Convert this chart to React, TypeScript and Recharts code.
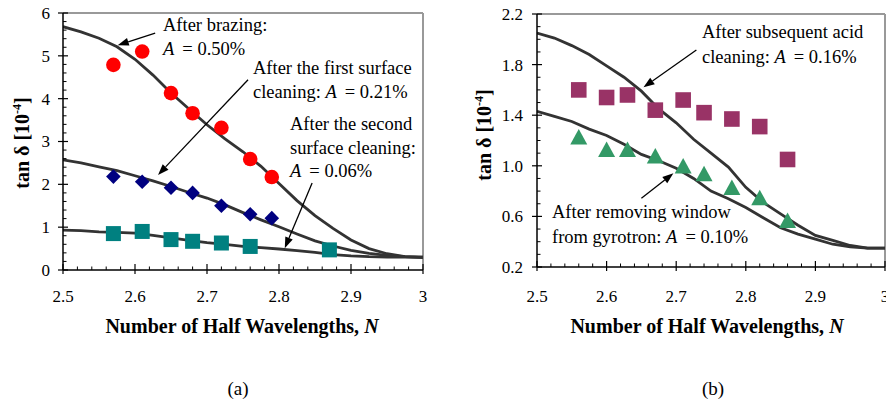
import React from 'react'
import { ComposedChart, Line, Scatter, XAxis, YAxis, ReferenceLine } from 'recharts'

const FONT = 'Liberation Serif, DejaVu Serif, serif'
const CURVE = '#333333'

// ---- panel (a) ----
const xPtsA = [2.57, 2.61, 2.65, 2.68, 2.72, 2.76, 2.79]
const brazing = [4.79, 5.1, 4.13, 3.66, 3.32, 2.59, 2.17]
const firstClean = [2.18, 2.06, 1.92, 1.8, 1.5, 1.3, 1.21]
const xPtsSecond = [2.57, 2.61, 2.65, 2.68, 2.72, 2.76, 2.87]
const secondClean = [0.85, 0.9, 0.71, 0.67, 0.63, 0.55, 0.47]

const curveX = [
  2.5, 2.525, 2.55, 2.575, 2.6, 2.625, 2.65, 2.675, 2.7, 2.725, 2.75,
  2.775, 2.8, 2.825, 2.85, 2.875, 2.9, 2.925, 2.95, 2.975, 3.0,
]
const fitBrazing = [
  5.68, 5.56, 5.41, 5.21, 4.92, 4.55, 4.13, 3.76, 3.39, 3.06, 2.76,
  2.42, 2.02, 1.62, 1.27, 0.97, 0.7, 0.5, 0.38, 0.31, 0.29,
]
const fitFirst = [
  2.57, 2.5, 2.41, 2.32, 2.2, 2.08, 1.95, 1.81, 1.68, 1.52, 1.34,
  1.17, 1.01, 0.84, 0.68, 0.56, 0.46, 0.39, 0.34, 0.31, 0.3,
]
const fitSecond = [
  0.93, 0.92, 0.89, 0.88, 0.86, 0.81, 0.75, 0.69, 0.64, 0.6, 0.55,
  0.52, 0.49, 0.45, 0.41, 0.36, 0.33, 0.31, 0.3, 0.3, 0.3,
]

// ---- panel (b) ----
const xPtsB = [2.56, 2.6, 2.63, 2.67, 2.71, 2.74, 2.78, 2.82, 2.86]
const acidClean = [1.6, 1.54, 1.56, 1.44, 1.52, 1.42, 1.37, 1.31, 1.05]
const removed = [1.23, 1.13, 1.13, 1.08, 1.0, 0.94, 0.83, 0.75, 0.57]
const fitAcid = [
  2.05, 2.01, 1.95, 1.88, 1.79, 1.7, 1.59, 1.45, 1.34, 1.21, 1.1,
  0.99, 0.83, 0.71, 0.62, 0.53, 0.45, 0.41, 0.37, 0.35, 0.35,
]
const fitRemoved = [
  1.43, 1.39, 1.35, 1.29, 1.24, 1.17, 1.09, 1.04, 0.98, 0.9, 0.8,
  0.74, 0.67, 0.59, 0.51, 0.46, 0.42, 0.38, 0.36, 0.35, 0.35,
]

// ticks
const xMajor = [2.5, 2.6, 2.7, 2.8, 2.9, 3]
const yMajorA = [0, 1, 2, 3, 4, 5, 6]
const yMajorB = [0.2, 0.6, 1.0, 1.4, 1.8, 2.2]

const zip = (xs: number[], ys: number[]) => xs.map((x, i) => ({ x, y: ys[i] }))

const subdivide = (major: number[], n: number) => {
  const out: number[] = []
  for (let i = 0; i < major.length - 1; i++) {
    const step = (major[i + 1] - major[i]) / n
    for (let k = 0; k < n; k++) out.push(+(major[i] + k * step).toFixed(4))
  }
  out.push(major[major.length - 1])
  return out
}

const isIn = (list: number[], v: number) => list.some((m) => Math.abs(m - v) < 1e-6)

function xTick(major: number[], labelDy: number) {
  return (props: any) => {
    const { x, y, payload } = props
    const v = payload.value
    if (!isIn(major, v)) {
      return <line x1={x} x2={x} y1={y} y2={y - 3.5} stroke="#000" strokeWidth={1} />
    }
    return (
      <g>
        <line x1={x} x2={x} y1={y - 6} y2={y + 4} stroke="#000" strokeWidth={1.2} />
        <text x={x} y={y + labelDy} textAnchor="middle" style={{ fontFamily: FONT, fontSize: 17 }} fill="#000">
          {String(v)}
        </text>
      </g>
    )
  }
}

function yTick(major: number[], fmt: (v: number) => string, gap: number) {
  return (props: any) => {
    const { x, y, payload } = props
    const v = payload.value
    if (!isIn(major, v)) {
      return <line x1={x} x2={x + 3.5} y1={y} y2={y} stroke="#000" strokeWidth={1} />
    }
    return (
      <g>
        <line x1={x - 5} x2={x + 5} y1={y} y2={y} stroke="#000" strokeWidth={1.2} />
        <text x={x - gap} y={y} dy="0.35em" textAnchor="end" style={{ fontFamily: FONT, fontSize: 17 }} fill="#000">
          {fmt(v)}
        </text>
      </g>
    )
  }
}

function ArrowShape(p: any) {
  const { x1, y1, x2, y2 } = p
  const a = Math.atan2(y2 - y1, x2 - x1)
  const len = 11
  const half = 4
  const bx = x2 - len * Math.cos(a)
  const by = y2 - len * Math.sin(a)
  const px = -Math.sin(a) * half
  const py = Math.cos(a) * half
  return (
    <g>
      <line x1={x1} y1={y1} x2={bx} y2={by} stroke="#000" strokeWidth={1.3} />
      <polygon points={`${x2},${y2} ${bx + px},${by + py} ${bx - px},${by - py}`} fill="#000" />
    </g>
  )
}

const circle = (color: string, r: number) => (p: any) =>
  <circle cx={p.cx} cy={p.cy} r={r} fill={color} />
const diamond = (color: string, h: number) => (p: any) =>
  <polygon points={`${p.cx},${p.cy - h} ${p.cx + h},${p.cy} ${p.cx},${p.cy + h} ${p.cx - h},${p.cy}`} fill={color} />
const square = (color: string, h: number) => (p: any) =>
  <rect x={p.cx - h} y={p.cy - h} width={2 * h} height={2 * h} fill={color} />
const triangle = (color: string, w: number, h: number) => (p: any) =>
  <polygon points={`${p.cx},${p.cy - h / 2} ${p.cx + w / 2},${p.cy + h / 2} ${p.cx - w / 2},${p.cy + h / 2}`} fill={color} />

const axisProps = {
  type: 'number' as const,
  interval: 0 as const,
  tickSize: 0,
  tickMargin: 0,
  tickLine: false,
  axisLine: { stroke: '#000', strokeWidth: 1.5 },
  allowDataOverflow: true,
}

function PanelA() {
  return (
    <ComposedChart width={443} height={404} margin={{ top: 13, right: 20, left: 13, bottom: 104 }}>
      <XAxis {...axisProps} dataKey="x" domain={[2.5, 3]} ticks={subdivide(xMajor, 5)} tick={xTick(xMajor, 32)} height={30} />
      <YAxis {...axisProps} dataKey="y" domain={[0, 6]} ticks={subdivide(yMajorA, 5)} tick={yTick(yMajorA, (v) => String(v), 13)} width={50} />
      <ReferenceLine y={6} stroke="#999" strokeWidth={2} />
      <ReferenceLine x={3} stroke="#999" strokeWidth={2} />
      <Line data={zip(curveX, fitBrazing)} dataKey="y" stroke={CURVE} strokeWidth={2.8} dot={false} isAnimationActive={false} />
      <Line data={zip(curveX, fitFirst)} dataKey="y" stroke={CURVE} strokeWidth={2.8} dot={false} isAnimationActive={false} />
      <Line data={zip(curveX, fitSecond)} dataKey="y" stroke={CURVE} strokeWidth={2.8} dot={false} isAnimationActive={false} />
      <Scatter data={zip(xPtsA, brazing)} dataKey="y" shape={circle('#ff0000', 7.3)} isAnimationActive={false} />
      <Scatter data={zip(xPtsA, firstClean)} dataKey="y" shape={diamond('#000080', 7.3)} isAnimationActive={false} />
      <Scatter data={zip(xPtsSecond, secondClean)} dataKey="y" shape={square('#008080', 7.5)} isAnimationActive={false} />
      <ReferenceLine segment={[{ x: 2.628, y: 5.53 }, { x: 2.576, y: 5.25 }]} shape={ArrowShape} />
      <ReferenceLine segment={[{ x: 2.757, y: 4.44 }, { x: 2.632, y: 2.22 }]} shape={ArrowShape} />
      <ReferenceLine segment={[{ x: 2.846, y: 2.03 }, { x: 2.808, y: 0.51 }]} shape={ArrowShape} />
    </ComposedChart>
  )
}

function PanelB() {
  return (
    <ComposedChart width={443} height={404} margin={{ top: 14, right: 1, left: 44, bottom: 107 }}>
      <XAxis {...axisProps} dataKey="x" domain={[2.5, 3]} ticks={subdivide(xMajor, 5)} tick={xTick(xMajor, 35)} height={30} />
      <YAxis {...axisProps} dataKey="y" domain={[0.2, 2.2]} ticks={subdivide(yMajorB, 4)} tick={yTick(yMajorB, (v) => v.toFixed(1), 14)} width={50} />
      <ReferenceLine y={2.2} stroke="#999" strokeWidth={2} />
      <ReferenceLine x={3} stroke="#999" strokeWidth={2} />
      <Line data={zip(curveX, fitAcid)} dataKey="y" stroke={CURVE} strokeWidth={2.8} dot={false} isAnimationActive={false} />
      <Line data={zip(curveX, fitRemoved)} dataKey="y" stroke={CURVE} strokeWidth={2.8} dot={false} isAnimationActive={false} />
      <Scatter data={zip(xPtsB, acidClean)} dataKey="y" shape={square('#993366', 7.8)} isAnimationActive={false} />
      <Scatter data={zip(xPtsB, removed)} dataKey="y" shape={triangle('#339966', 17, 15.5)} isAnimationActive={false} />
      <ReferenceLine segment={[{ x: 2.729, y: 1.915 }, { x: 2.653, y: 1.62 }]} shape={ArrowShape} />
      <ReferenceLine segment={[{ x: 2.65, y: 0.743 }, { x: 2.696, y: 0.941 }]} shape={ArrowShape} />
    </ComposedChart>
  )
}

function Note({ x, y, children }: { x: number; y: number; children: React.ReactNode }) {
  return (
    <text x={x} y={y} style={{ fontFamily: FONT, fontSize: 18.5 }} fill="#000">
      {children}
    </text>
  )
}

function AVal({ v }: { v: string }) {
  return (
    <>
      <tspan fontStyle="italic">A</tspan>
      <tspan dx={8}>= {v}</tspan>
    </>
  )
}

function YTitle({ cx, cy }: { cx: number; cy: number }) {
  return (
    <text
      x={cx}
      y={cy}
      transform={`rotate(-90, ${cx}, ${cy})`}
      textAnchor="middle"
      dy="0.35em"
      style={{ fontFamily: FONT, fontSize: 20, fontWeight: 'bold' }}
      fill="#000"
    >
      tan δ [10<tspan dy={-8} fontSize={12}>-4</tspan>
      <tspan dy={8}>]</tspan>
    </text>
  )
}

function XTitle({ cx }: { cx: number }) {
  return (
    <text x={cx} y={333} textAnchor="middle" style={{ fontFamily: FONT, fontSize: 20, fontWeight: 'bold' }} fill="#000">
      Number of Half Wavelengths, <tspan fontStyle="italic">N</tspan>
    </text>
  )
}

function Overlay() {
  return (
    <svg width={886} height={404} style={{ position: 'absolute', left: 0, top: 0, pointerEvents: 'none' }}>
      <Note x={163} y={31}>After brazing:</Note>
      <Note x={163} y={55}><AVal v="0.50%" /></Note>
      <Note x={253} y={74}>After the first surface</Note>
      <Note x={253} y={98}>cleaning: <AVal v="0.21%" /></Note>
      <Note x={290} y={130}>After the second</Note>
      <Note x={290} y={154}>surface cleaning:</Note>
      <Note x={290} y={177}><AVal v="0.06%" /></Note>

      <Note x={702} y={38}>After subsequent acid</Note>
      <Note x={702} y={63}>cleaning: <AVal v="0.16%" /></Note>
      <Note x={552} y={218}>After removing window</Note>
      <Note x={552} y={243}>from gyrotron: <AVal v="0.10%" /></Note>

      <YTitle cx={22} cy={143} />
      <YTitle cx={484} cy={135} />
      <XTitle cx={242} />
      <XTitle cx={707} />

      <text x={238} y={395} textAnchor="middle" style={{ fontFamily: FONT, fontSize: 19 }} fill="#000">(a)</text>
      <text x={713} y={395} textAnchor="middle" style={{ fontFamily: FONT, fontSize: 19 }} fill="#000">(b)</text>
    </svg>
  )
}

export default function App() {
  return (
    <div
      style={{
        position: 'absolute',
        left: 0,
        top: 0,
        width: 886,
        height: 404,
        overflow: 'hidden',
        background: '#fff',
      }}
    >
      <div style={{ position: 'absolute', left: 0, top: 0 }}>
        <PanelA />
      </div>
      <div style={{ position: 'absolute', left: 443, top: 0 }}>
        <PanelB />
      </div>
      <Overlay />
    </div>
  )
}
